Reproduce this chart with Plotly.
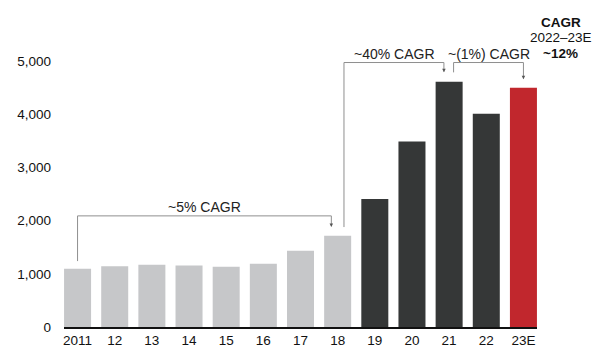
import plotly.graph_objects as go

categories = ["2011", "12", "13", "14", "15", "16", "17", "18", "19", "20", "21", "22", "23E"]
values = [1094, 1145, 1170, 1157, 1132, 1189, 1434, 1717, 2409, 3490, 4612, 4010, 4500]
bar_colors = ["#c6c7c9"] * 8 + ["#353737"] * 4 + ["#c1272d"]
y_ticks = [0, 1000, 2000, 3000, 4000, 5000]

# brackets: (x_start, y_start, y_top, x_end, y_tip, label, label_x, label_y)
brackets = [
    (0.0, 1240, 2090, 6.83, 1880, "~5% CAGR", 3.41, 2260),
    (7.17, 1880, 4975, 9.86, 4790, "~40% CAGR", 8.52, 5135),
    (10.12, 4790, 4975, 12.0, 4660, "~(1%) CAGR", 11.06, 5135),
]

side_lines = ["<b>CAGR</b>", "2022–23E", "<b>~12%</b>"]
side_y = [5735, 5437, 5140]

FONT = "Liberation Sans, Arial, sans-serif"
LINE_COLOR = "#8f8f8f"

fig = go.Figure()
fig.add_trace(go.Bar(
    x=list(range(len(categories))), y=values,
    marker=dict(color=bar_colors, line=dict(width=0)),
    width=0.727, hoverinfo="skip", cliponaxis=False,
))

shapes = []
annotations = []
for xs, ys, yt, xe, ytip, label, lx, ly in brackets:
    shapes.append(dict(
        type="path", xref="x", yref="y",
        path=f"M {xs} {ys} L {xs} {yt} L {xe} {yt} L {xe} {ytip + 40}",
        line=dict(color=LINE_COLOR, width=1),
    ))
    annotations.append(dict(
        x=xe, y=ytip, ax=xe, ay=ytip + 60, xref="x", yref="y",
        axref="x", ayref="y", text="", showarrow=True,
        arrowhead=2, arrowsize=0.7, arrowwidth=1, arrowcolor="#555555",
    ))
    annotations.append(dict(
        x=lx, y=ly, xref="x", yref="y", text=label, showarrow=False,
        font=dict(family=FONT, size=14, color="#222222"),
        xanchor="center", yanchor="middle",
    ))

for txt, yv in zip(side_lines, side_y):
    annotations.append(dict(
        x=1.05, y=yv, xref="paper", yref="y", text=txt,
        showarrow=False, align="center", borderpad=0,
        font=dict(family=FONT, size=13.5, color="#111111"),
        xanchor="center", yanchor="middle",
    ))

fig.update_layout(
    width=605, height=356,
    margin=dict(l=56, r=76, t=2, b=37),
    paper_bgcolor="white", plot_bgcolor="white",
    showlegend=False,
    shapes=shapes, annotations=annotations,
    font=dict(family=FONT, size=13, color="#222222"),
    bargap=0.27,
)
fig.update_xaxes(
    range=[-0.365, 12.365],
    tickmode="array", tickvals=list(range(len(categories))), ticktext=categories,
    showline=True, linecolor="#111111", linewidth=1.5,
    showgrid=False, zeroline=False, ticks="",
    tickfont=dict(family=FONT, size=13.5, color="#111111"),
)
fig.update_yaxes(
    range=[0, 5963],
    tickmode="array", tickvals=y_ticks, tickformat=",",
    showgrid=False, zeroline=False, showline=False, ticks="",
    ticklabelstandoff=12,
    tickfont=dict(family=FONT, size=13.5, color="#111111"),
)

fig.write_html("out.html")
